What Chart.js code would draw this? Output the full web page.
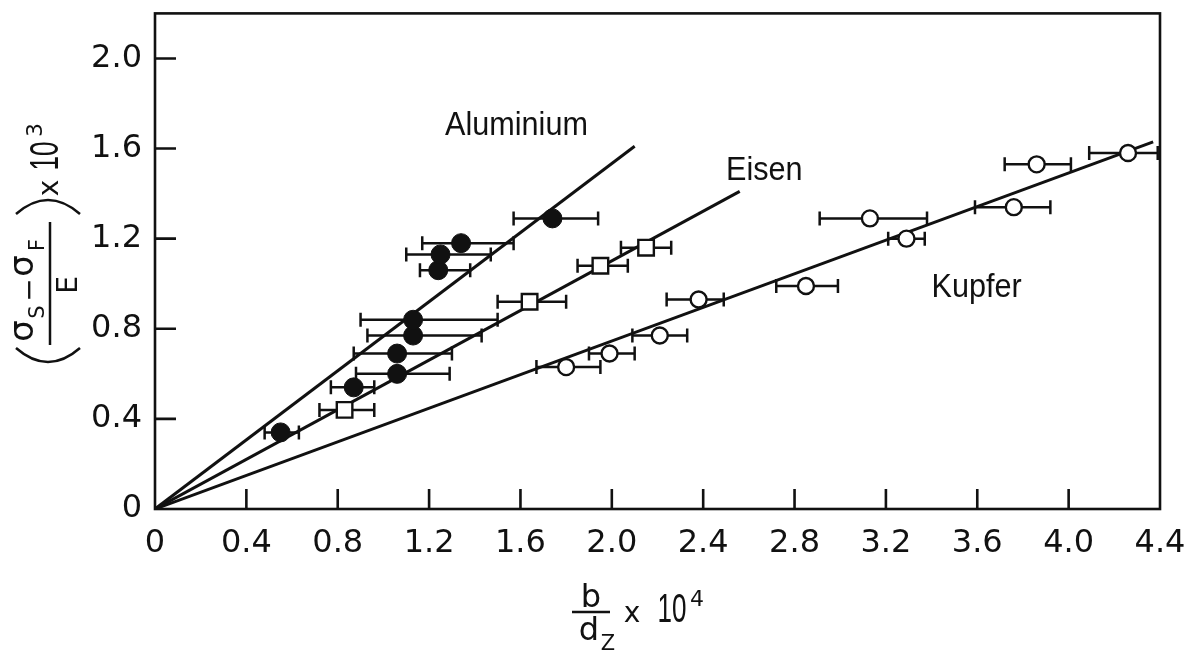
<!DOCTYPE html>
<html>
<head>
<meta charset="utf-8">
<script src="https://cdn.jsdelivr.net/npm/chart.js@4.4.1/dist/chart.umd.min.js"></script>
<style>
  html, body { margin: 0; padding: 0; background: #fff; }
  canvas { display: block; }
</style>
</head>
<body>
<canvas id="chart" width="1184" height="653"></canvas>
<script>
// Aluminium - filled circles
const alX = [0.55, 0.87, 1.06, 1.06, 1.13, 1.13, 1.24, 1.25, 1.34, 1.74];
const alY = [0.34, 0.54, 0.60, 0.69, 0.77, 0.84, 1.06, 1.13, 1.18, 1.29];
const alLo = [0.48, 0.77, 0.88, 0.87, 0.93, 0.90, 1.16, 1.10, 1.17, 1.57];
const alHi = [0.63, 0.96, 1.29, 1.30, 1.43, 1.50, 1.38, 1.47, 1.57, 1.94];

// Eisen - open squares
const feX = [0.83, 1.64, 1.95, 2.15];
const feY = [0.44, 0.92, 1.08, 1.16];
const feLo = [0.72, 1.50, 1.85, 2.04];
const feHi = [0.96, 1.80, 2.07, 2.26];

// Kupfer - open circles
const cuX = [1.80, 1.99, 2.21, 2.38, 2.85, 3.13, 3.29, 3.76, 3.86, 4.26];
const cuY = [0.63, 0.69, 0.77, 0.93, 0.99, 1.29, 1.20, 1.34, 1.53, 1.58];
const cuLo = [1.67, 1.90, 2.09, 2.24, 2.72, 2.91, 3.21, 3.59, 3.72, 4.09];
const cuHi = [1.95, 2.10, 2.33, 2.49, 2.99, 3.38, 3.37, 3.92, 4.01, 4.39];

// straight lines through the origin, end points
const alFitEnd = [2.10, 1.61];
const feFitEnd = [2.56, 1.41];
const cuFitEnd = [4.37, 1.63];

const seriesNames = ["Aluminium", "Eisen", "Kupfer"];

const xTicks = [0, 0.4, 0.8, 1.2, 1.6, 2.0, 2.4, 2.8, 3.2, 3.6, 4.0, 4.4];
const xTickLabels = ["0", "0.4", "0.8", "1.2", "1.6", "2.0", "2.4", "2.8", "3.2", "3.6", "4.0", "4.4"];
const yTicks = [0, 0.4, 0.8, 1.2, 1.6, 2.0];
const yTickLabels = ["0", "0.4", "0.8", "1.2", "1.6", "2.0"];

const INK = "#111";

const pts = (xs, ys) => xs.map((x, i) => ({ x: x, y: ys[i] }));
const fitLine = (end) => [{ x: 0, y: 0 }, { x: end[0], y: end[1] }];

function txt(ctx, str, x, y, size, opts = {}) {
  ctx.save();
  ctx.font = size + "px " + (opts.family || "'DejaVu Sans'");
  ctx.textAlign = opts.align || "center";
  ctx.textBaseline = "alphabetic";
  ctx.translate(x, y);
  if (opts.rot) ctx.rotate(-Math.PI / 2);
  if (opts.sx) ctx.scale(opts.sx, 1);
  ctx.fillText(str, 0, 0);
  ctx.restore();
}

// error bars, drawn behind the markers
const errorBars = {
  id: "errorBars",
  beforeDatasetsDraw(chart) {
    const { ctx, scales: { x, y } } = chart;
    ctx.save();
    ctx.strokeStyle = INK;
    ctx.lineWidth = 2.5;
    [[alY, alLo, alHi], [feY, feLo, feHi], [cuY, cuLo, cuHi]].forEach(([ys, lo, hi]) => {
      ys.forEach((v, i) => {
        const py = y.getPixelForValue(v);
        const x1 = x.getPixelForValue(lo[i]);
        const x2 = x.getPixelForValue(hi[i]);
        ctx.beginPath();
        ctx.moveTo(x1, py); ctx.lineTo(x2, py);
        ctx.moveTo(x1, py - 7); ctx.lineTo(x1, py + 7);
        ctx.moveTo(x2, py - 7); ctx.lineTo(x2, py + 7);
        ctx.stroke();
      });
    });
    ctx.restore();
  }
};

// box frame, inward tick marks, labels and axis titles
const decor = {
  id: "decor",
  afterDraw(chart) {
    const { ctx, chartArea: a, scales: { x, y } } = chart;
    ctx.save();
    ctx.strokeStyle = INK;
    ctx.fillStyle = INK;
    ctx.lineWidth = 2.6;
    ctx.strokeRect(a.left, a.top, a.right - a.left, a.bottom - a.top);

    ctx.beginPath();
    x.ticks.forEach((t) => {
      if (t.value <= 0 || t.value >= 4.4) return;
      const px = x.getPixelForValue(t.value);
      ctx.moveTo(px, a.bottom); ctx.lineTo(px, a.bottom - 20);
    });
    y.ticks.forEach((t) => {
      if (t.value <= 0) return;
      const py = y.getPixelForValue(t.value);
      ctx.moveTo(a.left, py); ctx.lineTo(a.left + 21, py);
    });
    ctx.stroke();

    // series names
    const anchors = [[1.27, 1.66], [2.50, 1.46], [3.40, 0.94]];
    seriesNames.forEach((name, i) => {
      txt(ctx, name, x.getPixelForValue(anchors[i][0]), y.getPixelForValue(anchors[i][1]), 34,
        { family: "'Liberation Sans'", align: "left", sx: 0.9 });
    });

    // x title: b / dZ x 10^4
    txt(ctx, "b", 591, 607, 32);
    ctx.lineWidth = 2.5;
    ctx.beginPath(); ctx.moveTo(572, 612); ctx.lineTo(610, 612); ctx.stroke();
    txt(ctx, "d", 589, 640, 32);
    txt(ctx, "Z", 608, 650, 21);
    txt(ctx, "x", 632, 622, 28);
    txt(ctx, "10", 672, 622, 40, { family: "'Liberation Sans'", sx: 0.65 });
    txt(ctx, "4", 697, 606, 22);

    // y title: ((sigma_S - sigma_F) / E) x 10^3, rotated
    txt(ctx, "σ", 33, 331, 34, { rot: true });
    txt(ctx, "S", 44, 312, 21, { rot: true });
    txt(ctx, "−", 38, 290, 28, { rot: true });
    txt(ctx, "σ", 33, 266, 34, { rot: true });
    txt(ctx, "F", 44, 245, 21, { rot: true });
    ctx.beginPath(); ctx.moveTo(50, 345); ctx.lineTo(50, 222); ctx.stroke();
    txt(ctx, "E", 77, 285, 28, { rot: true });
    ctx.beginPath();
    ctx.moveTo(16, 348); ctx.quadraticCurveTo(48, 376, 80, 348);
    ctx.moveTo(16, 214); ctx.quadraticCurveTo(48, 186, 80, 214);
    ctx.stroke();
    txt(ctx, "x", 58, 188, 28, { rot: true });
    txt(ctx, "10", 58, 156, 40, { rot: true, family: "'Liberation Sans'", sx: 0.65 });
    txt(ctx, "3", 42, 130, 22, { rot: true });
    ctx.restore();
  }
};

const scaleFix = (size) => (scale) => {
  if (scale.isHorizontal()) scale.height = size; else scale.width = size;
  scale.paddingTop = 0; scale.paddingBottom = 0;
  scale.paddingLeft = 0; scale.paddingRight = 0;
};

const ctx = document.getElementById("chart").getContext("2d");
const myChart = new Chart(ctx, {
  type: "scatter",
  data: {
    datasets: [
      {
        label: seriesNames[0],
        data: pts(alX, alY),
        pointStyle: "circle",
        pointRadius: 9.5,
        backgroundColor: INK,
        borderColor: INK,
        borderWidth: 1,
        order: 0
      },
      {
        label: seriesNames[1],
        data: pts(feX, feY),
        pointStyle: "rect",
        pointRadius: 11,
        backgroundColor: "#fff",
        borderColor: INK,
        borderWidth: 2.4,
        order: 0
      },
      {
        label: seriesNames[2],
        data: pts(cuX, cuY),
        pointStyle: "circle",
        pointRadius: 8,
        backgroundColor: "#fff",
        borderColor: INK,
        borderWidth: 2.4,
        order: 0
      },
      { data: fitLine(alFitEnd), showLine: true, pointRadius: 0, borderColor: INK, borderWidth: 3, order: 2 },
      { data: fitLine(feFitEnd), showLine: true, pointRadius: 0, borderColor: INK, borderWidth: 3, order: 2 },
      { data: fitLine(cuFitEnd), showLine: true, pointRadius: 0, borderColor: INK, borderWidth: 3, order: 2 }
    ]
  },
  options: {
    responsive: false,
    animation: false,
    events: [],
    layout: { padding: { top: 9, right: 24, left: 0, bottom: 0 } },
    plugins: { legend: { display: false }, tooltip: { enabled: false } },
    scales: {
      x: {
        type: "linear",
        min: 0,
        max: 4.4,
        grid: { display: false },
        border: { display: false },
        afterBuildTicks: (scale) => { scale.ticks = xTicks.map((v) => ({ value: v })); },
        afterFit: scaleFix(144),
        ticks: {
          color: INK,
          padding: 7,
          maxRotation: 0,
          autoSkip: false,
          font: { family: "'DejaVu Sans'", size: 32 },
          callback: (value, i) => xTickLabels[i]
        }
      },
      y: {
        type: "linear",
        min: 0,
        max: 2.2,
        grid: { display: false },
        border: { display: false },
        afterBuildTicks: (scale) => { scale.ticks = yTicks.map((v) => ({ value: v })); },
        afterFit: scaleFix(155),
        ticks: {
          color: INK,
          padding: 5,
          autoSkip: false,
          font: { family: "'DejaVu Sans'", size: 32 },
          callback: (value, i) => yTickLabels[i]
        }
      }
    }
  },
  plugins: [errorBars, decor]
});
</script>
</body>
</html>
